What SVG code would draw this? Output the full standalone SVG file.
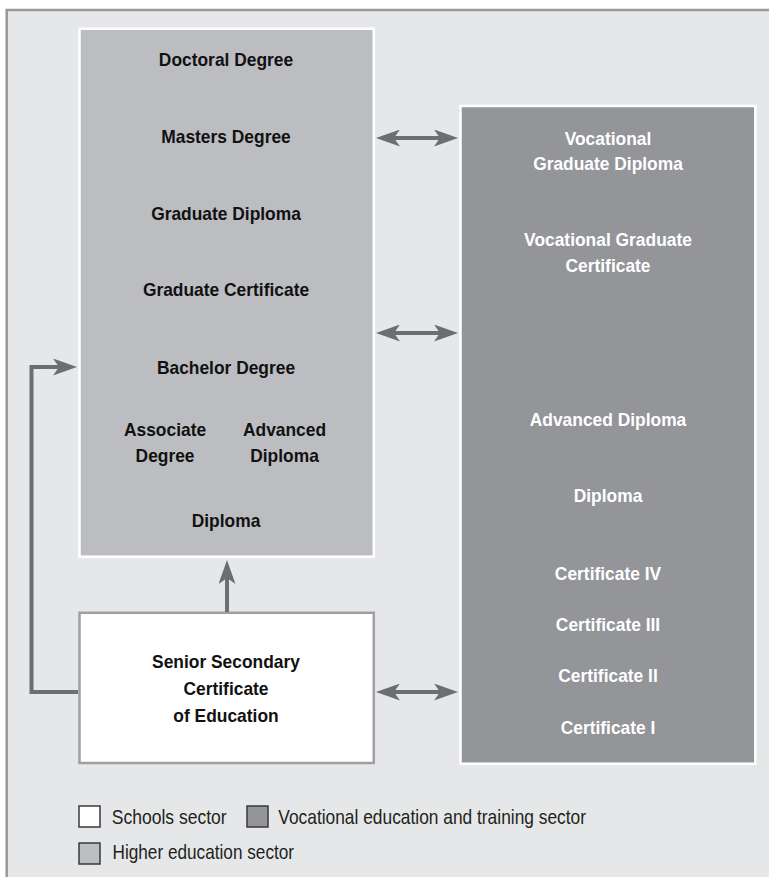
<svg xmlns="http://www.w3.org/2000/svg" width="769" height="877" viewBox="0 0 769 877">
<style>
.frame{fill:#e6e7e8;stroke:#98999c;stroke-width:2.5}
.he{fill:#bcbdc0;stroke:#ffffff;stroke-width:2.5}
.vet{fill:#939598;stroke:#ffffff;stroke-width:2.5}
.sch{fill:#ffffff;stroke:#9d9fa2;stroke-width:2.5}
.b{font-family:"Liberation Sans",Arial,sans-serif;font-weight:bold;font-size:18.6px;text-anchor:middle}
.dk{fill:#111111}
.wt{fill:#ffffff}
.lg{font-family:"Liberation Sans",Arial,sans-serif;font-size:21px;fill:#231f20}
.conn{fill:none;stroke:#6d6e71;stroke-width:4}
.sw{stroke:#3a3a3c;stroke-width:1.5}
</style>
<defs>
<marker id="ah" markerUnits="userSpaceOnUse" viewBox="0 0 24 17" refX="6" refY="8.5" markerWidth="24" markerHeight="17" orient="auto-start-reverse">
<path d="M0,0 L24,8.5 L0,17 L6,8.5 Z" fill="#6d6e71"/>
</marker>
</defs>
<rect class="frame" x="6.7" y="10" width="790" height="900"/>

<g id="higher-education">
<rect class="he" x="79.5" y="28.7" width="294.3" height="528"/>
<g transform="translate(226,0) scale(0.935,1)">
<text class="b dk" x="0" y="66">Doctoral Degree</text>
<text class="b dk" x="0" y="143">Masters Degree</text>
<text class="b dk" x="0" y="220">Graduate Diploma</text>
<text class="b dk" x="0" y="296.5">Graduate Certificate</text>
<text class="b dk" x="0" y="374">Bachelor Degree</text>
<text class="b dk" x="-65.2" y="436.5">Associate</text>
<text class="b dk" x="-65.2" y="462.5">Degree</text>
<text class="b dk" x="62.6" y="436.5">Advanced</text>
<text class="b dk" x="62.6" y="462.5">Diploma</text>
<text class="b dk" x="0" y="527.5">Diploma</text>
</g>
</g>

<g id="vocational">
<rect class="vet" x="460.5" y="106" width="294.8" height="657.7"/>
<g transform="translate(608,0) scale(0.935,1)">
<text class="b wt" x="0" y="145">Vocational</text>
<text class="b wt" x="0" y="170">Graduate Diploma</text>
<text class="b wt" x="0" y="246.5">Vocational Graduate</text>
<text class="b wt" x="0" y="272.5">Certificate</text>
<text class="b wt" x="0" y="426">Advanced Diploma</text>
<text class="b wt" x="0" y="502">Diploma</text>
<text class="b wt" x="0" y="580">Certificate IV</text>
<text class="b wt" x="0" y="631">Certificate III</text>
<text class="b wt" x="0" y="682.5">Certificate II</text>
<text class="b wt" x="0" y="734">Certificate I</text>
</g>
</g>

<g id="schools">
<rect class="sch" x="79.5" y="612.8" width="294.3" height="150.2"/>
<g transform="translate(226,0) scale(0.935,1)">
<text class="b dk" x="0" y="668.3">Senior Secondary</text>
<text class="b dk" x="0" y="695">Certificate</text>
<text class="b dk" x="0" y="721.7">of Education</text>
</g>
</g>

<g id="connectors">
<path class="conn" d="M394,138 H440" marker-start="url(#ah)" marker-end="url(#ah)"/>
<path class="conn" d="M394,333 H440" marker-start="url(#ah)" marker-end="url(#ah)"/>
<path class="conn" d="M394,692 H440" marker-start="url(#ah)" marker-end="url(#ah)"/>
<path class="conn" d="M227,612 V578" marker-end="url(#ah)"/>
<path class="conn" d="M78,692 H31.5 V367 H59" marker-end="url(#ah)"/>
</g>

<g id="legend">
<rect class="sw" x="79" y="806" width="21" height="21" fill="#ffffff"/>
<text class="lg" x="111.7" y="823.5" textLength="115" lengthAdjust="spacingAndGlyphs">Schools sector</text>
<rect class="sw" x="247" y="806" width="21" height="21" fill="#939598"/>
<text class="lg" x="278.3" y="823.5" textLength="307.7" lengthAdjust="spacingAndGlyphs">Vocational education and training sector</text>
<rect class="sw" x="79" y="843" width="21" height="21" fill="#bcbdc0"/>
<text class="lg" x="112.5" y="858.5" textLength="181.6" lengthAdjust="spacingAndGlyphs">Higher education sector</text>
</g>
</svg>
